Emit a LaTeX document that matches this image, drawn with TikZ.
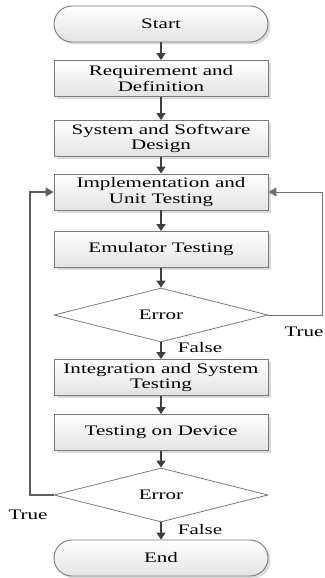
\documentclass[tikz,border=0pt]{standalone}
\usepackage{fontspec}
\setmainfont{Liberation Serif}[FakeStretch=1.45]
\usetikzlibrary{shapes.geometric,arrows.meta,shadows}
\definecolor{boxborder}{HTML}{7A7A7A}
\definecolor{arrowcol}{HTML}{404040}
\begin{document}
\begin{tikzpicture}[x=1pt,y=-1pt,
  every node/.style={font=\fontsize{14.5}{15.5}\selectfont, text=black},
  stepbox/.style={draw=boxborder, line width=0.9pt, top color=white, bottom color=black!11,
    minimum width=214pt, minimum height=36pt, inner sep=0pt, align=center,
    drop shadow={shadow xshift=2.5pt, shadow yshift=-2.5pt, fill=black!14, opacity=1}},
  termbox/.style={stepbox, rounded corners=18pt},
  decbox/.style={diamond, draw=boxborder, line width=0.8pt, fill=white,
    minimum width=214pt, minimum height=54pt, inner sep=0pt},
  flow/.style={draw=arrowcol, line width=1.6pt, -{Triangle[width=9pt,length=7pt]}},
  loopline/.style={draw=arrowcol!85, line width=1.3pt, -{Triangle[width=9pt,length=8pt]}},
  lbl/.style={inner sep=0pt}
]
\useasboundingbox (0,0) rectangle (324,578);
\node[termbox] (start) at (161,24) {Start};
\node[stepbox] (req) at (161,78.5) {Requirement and\\Definition};
\node[stepbox] (sys) at (161,138.5) {System and Software\\Design};
\node[stepbox] (impl) at (161,192) {Implementation and\\Unit Testing};
\node[stepbox] (emu) at (161,249.5) {Emulator Testing};
\node[decbox] (d1) at (161,315) {Error};
\node[stepbox] (integ) at (161,377.5) {Integration and System\\Testing};
\node[stepbox] (dev) at (161,432.5) {Testing on Device};
\node[decbox] (d2) at (161,495) {Error};
\node[termbox] (end) at (161,558) {End};

\draw[flow] (start) -- (req);
\draw[flow] (req) -- (sys);
\draw[flow] (sys) -- (impl);
\draw[flow] (impl) -- (emu);
\draw[flow] (emu) -- (d1);
\draw[flow] (d1) -- (integ);
\draw[flow] (integ) -- (dev);
\draw[flow] (dev) -- (d2);
\draw[flow] (d2) -- (end);

\coordinate (r1) at (322.5,315);
\coordinate (r2) at (322.5,192);
\draw[loopline, line width=1pt, draw=arrowcol!75] (d1.east) -- (r1) -- (r2) -- (impl.east);
\coordinate (l1) at (30,495);
\coordinate (l2) at (30,192);
\draw[loopline] (d2.west) -- (l1) -- (l2) -- (impl.west);

\node[lbl] (t1) at (304,332) {True};
\node[lbl] (f1) at (200,348) {False};
\node[lbl] (t2) at (28,515) {True};
\node[lbl] (f2) at (200,530) {False};
\end{tikzpicture}
\end{document}
